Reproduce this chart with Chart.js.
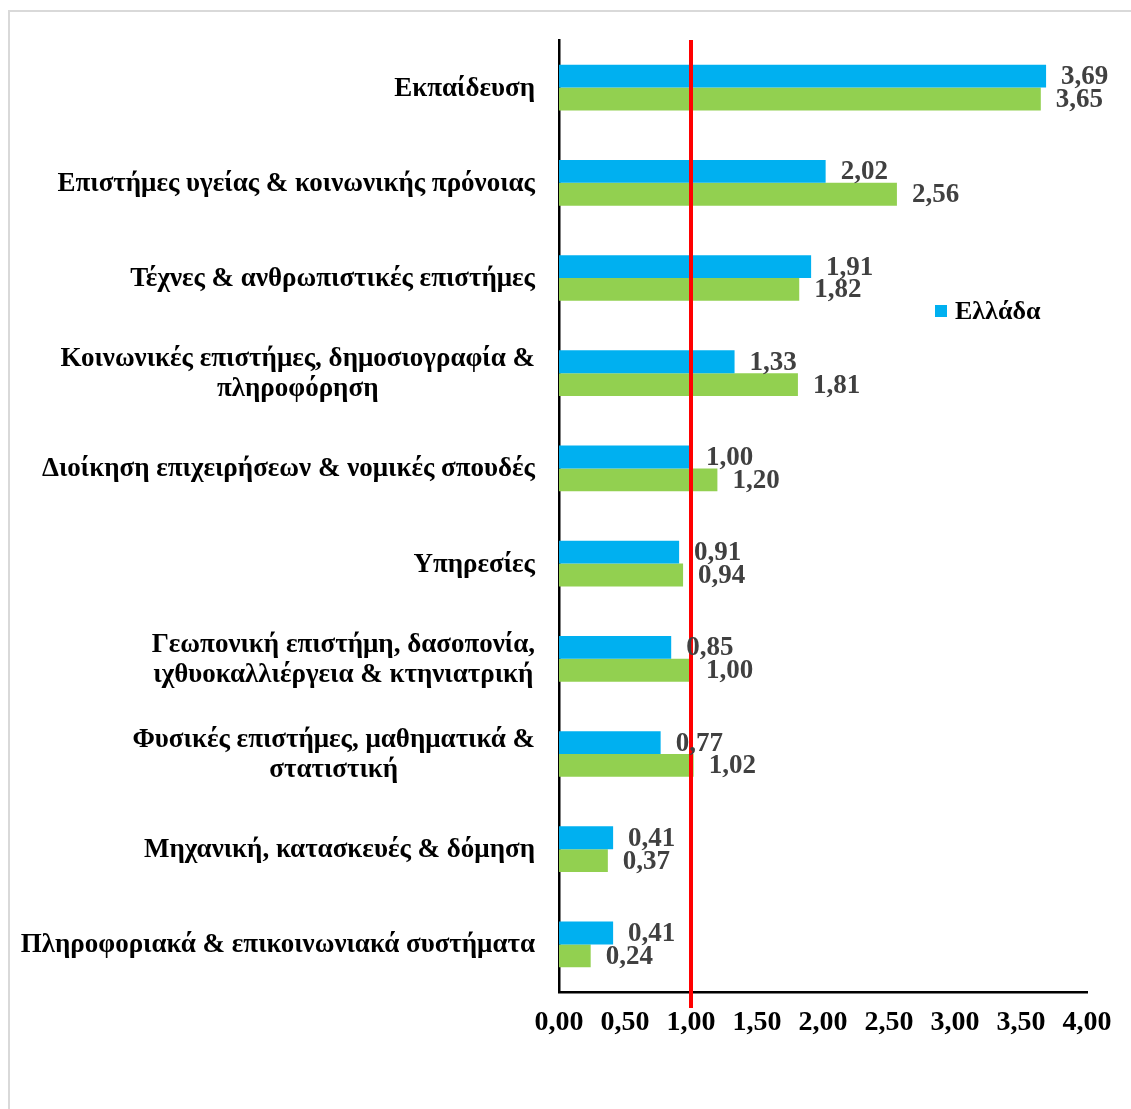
<!DOCTYPE html>
<html>
<head>
<meta charset="utf-8">
<script src="https://cdn.jsdelivr.net/npm/chart.js@4.4.0/dist/chart.umd.min.js"></script>
<style>
  body { margin: 0; background: #fff; overflow: hidden; }
  .frame { position: absolute; left: 8px; top: 10px; width: 1200px; height: 1200px;
           border-left: 2px solid #d9d9d9; border-top: 2px solid #d9d9d9; }
  .wrap { position: absolute; left: 0; top: 0; width: 1131px; height: 1109px; }
</style>
</head>
<body>
<div class="frame"></div>
<div class="wrap"><canvas id="myChart"></canvas></div>
<script>
// Data
const categories = [
    ['Εκπαίδευση'],
    ['Επιστήμες υγείας & κοινωνικής πρόνοιας'],
    ['Τέχνες & ανθρωπιστικές επιστήμες'],
    ['Κοινωνικές επιστήμες, δημοσιογραφία &', 'πληροφόρηση'],
    ['Διοίκηση επιχειρήσεων & νομικές σπουδές'],
    ['Υπηρεσίες'],
    ['Γεωπονική επιστήμη, δασοπονία,', 'ιχθυοκαλλιέργεια & κτηνιατρική'],
    ['Φυσικές επιστήμες, μαθηματικά &', 'στατιστική'],
    ['Μηχανική, κατασκευές & δόμηση'],
    ['Πληροφοριακά & επικοινωνιακά συστήματα']
];
const greeceValues = [3.69, 2.02, 1.91, 1.33, 1.00, 0.91, 0.85, 0.77, 0.41, 0.41];
const otherValues  = [3.65, 2.56, 1.82, 1.81, 1.20, 0.94, 1.00, 1.02, 0.37, 0.24];
const xTicks = [0, 0.5, 1, 1.5, 2, 2.5, 3, 3.5, 4];
const refValue = 1;

const serif = '"Liberation Serif", "Times New Roman", serif';
const fmt = v => v.toFixed(2).replace('.', ',');

// red reference line at 1,00
const refLine = {
    id: 'refLine',
    afterDatasetsDraw(chart) {
        const {ctx, chartArea, scales: {x}} = chart;
        const px = x.getPixelForValue(refValue);
        ctx.save();
        ctx.strokeStyle = '#ff0000';
        ctx.lineWidth = 4;
        ctx.beginPath();
        ctx.moveTo(px, chartArea.top);
        ctx.lineTo(px, chartArea.bottom + 16);
        ctx.stroke();
        ctx.restore();
    }
};

// value labels, category labels, legend
const extras = {
    id: 'extras',
    afterDraw(chart) {
        const {ctx, chartArea, scales: {y}} = chart;
        ctx.save();
        // values
        ctx.font = 'bold 27px ' + serif;
        ctx.fillStyle = '#404040';
        ctx.textAlign = 'left';
        ctx.textBaseline = 'middle';
        chart.data.datasets.forEach((ds, i) => {
            chart.getDatasetMeta(i).data.forEach((bar, j) => {
                ctx.fillText(fmt(ds.data[j]), bar.x + 15, bar.y + 1);
            });
        });
        // categories
        ctx.font = 'bold 27px ' + serif;
        ctx.fillStyle = '#000';
        ctx.textAlign = 'center';
        const right = chartArea.left - 24;
        const lh = 30;
        categories.forEach((lines, i) => {
            const cy = y.getPixelForValue(i) + 1;
            const w = Math.max(...lines.map(l => ctx.measureText(l).width));
            const cx = right - w / 2;
            lines.forEach((l, k) => {
                ctx.fillText(l, cx, cy + (k - (lines.length - 1) / 2) * lh);
            });
        });
        // legend
        ctx.fillStyle = '#00b0f0';
        ctx.fillRect(chartArea.right - 152, 305, 12, 12);
        ctx.fillStyle = '#000';
        ctx.textAlign = 'left';
        ctx.font = 'bold 26px ' + serif;
        ctx.fillText('Ελλάδα', chartArea.right - 132, 312);
        ctx.restore();
    }
};

const ctx = document.getElementById('myChart').getContext('2d');

const config = {
    type: 'bar',
    data: {
        labels: categories.map(c => c.join(' ')),
        datasets: [
            {
                label: 'Ελλάδα',
                data: greeceValues,
                backgroundColor: '#00b0f0',
                barPercentage: 1,
                categoryPercentage: 0.48
            },
            {
                label: 'ΕΕ',
                data: otherValues,
                backgroundColor: '#92d050',
                barPercentage: 1,
                categoryPercentage: 0.48
            }
        ]
    },
    options: {
        indexAxis: 'y',
        responsive: true,
        maintainAspectRatio: false,
        animation: false,
        layout: { padding: { top: 40, right: 44, left: 0, bottom: 0 } },
        scales: {
            x: {
                min: 0,
                max: 4,
                afterBuildTicks: scale => { scale.ticks = xTicks.map(v => ({value: v})); },
                afterFit: scale => { scale.height = 117; },
                grid: { display: false, drawTicks: false },
                border: { display: true, color: '#000', width: 2.5 },
                ticks: {
                    padding: 14,
                    color: '#000',
                    maxRotation: 0,
                    autoSkip: false,
                    callback: v => fmt(v),
                    font: { size: 28, weight: 'bold', family: serif }
                }
            },
            y: {
                afterFit: scale => { scale.width = 559; },
                grid: { display: false, drawTicks: false },
                border: { display: true, color: '#000', width: 2.5 },
                ticks: { display: false }
            }
        },
        plugins: {
            legend: { display: false },
            tooltip: { enabled: false }
        }
    },
    plugins: [refLine, extras]
};

const myChart = new Chart(ctx, config);
</script>
</body>
</html>
